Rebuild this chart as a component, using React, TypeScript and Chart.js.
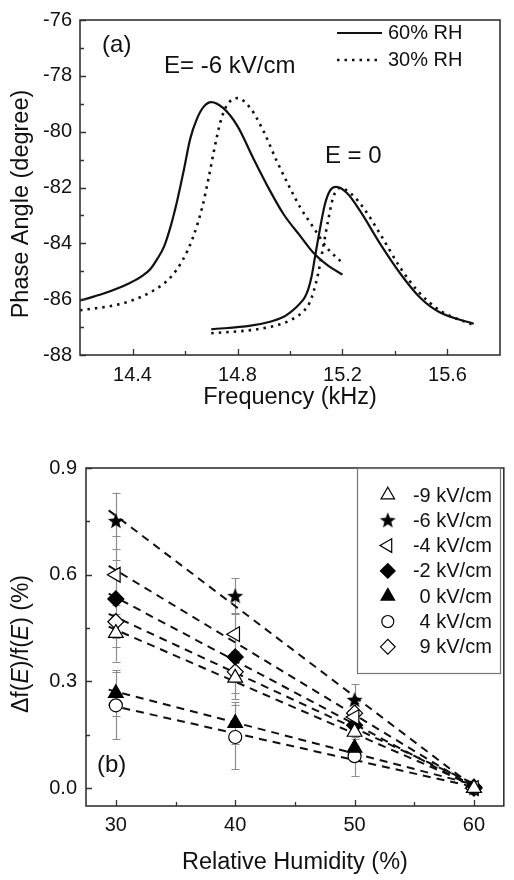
import React, { useEffect, useRef } from 'react';
import { Chart, registerables } from 'chart.js';
import { drawPoint } from 'chart.js/helpers';

Chart.register(...registerables);

const FONT = "'Liberation Sans', Arial, Helvetica, sans-serif";
const INK = '#111111';

// ---------------- Panel (a) ----------------
const freqTicks = [14.4, 14.8, 15.2, 15.6];
const freqMinorTicks = [14.6, 15.0, 15.4];
const phaseTicks = [-88, -86, -84, -82, -80, -78, -76];
const phaseMinorTicks = [-87, -85, -83, -81, -79, -77];

// E = -6 kV/cm, 60% RH (solid)
const freqNeg6RH60 = [14.2, 14.29, 14.39, 14.44, 14.47, 14.495, 14.52, 14.545, 14.57, 14.595, 14.62, 14.645, 14.67, 14.7, 14.745, 14.8, 14.86, 14.92, 14.975, 15.04, 15.09, 15.145, 15.2];
const phaseNeg6RH60 = [-86.05, -85.8, -85.42, -85.15, -84.9, -84.55, -84.12, -83.4, -82.48, -81.4, -80.25, -79.55, -79.12, -78.94, -79.15, -79.8, -80.95, -82.05, -82.95, -83.75, -84.35, -84.8, -85.12];
// E = -6 kV/cm, 30% RH (dotted)
const freqNeg6RH30 = [14.2, 14.33, 14.4, 14.48, 14.545, 14.59, 14.63, 14.665, 14.69, 14.71, 14.735, 14.76, 14.8, 14.85, 14.9, 14.95, 15.0, 15.04, 15.09, 15.14, 15.2];
const phaseNeg6RH30 = [-86.4, -86.22, -86.04, -85.69, -85.22, -84.62, -83.8, -82.73, -81.66, -80.7, -79.65, -79.05, -78.8, -79.17, -80.0, -81.06, -82.02, -82.73, -83.44, -84.15, -84.7];
// E = 0, 60% RH (solid)
const freqZeroRH60 = [14.7, 14.85, 14.92, 14.97, 15.0, 15.025, 15.045, 15.057, 15.07, 15.082, 15.095, 15.115, 15.133, 15.152, 15.176, 15.217, 15.267, 15.343, 15.42, 15.495, 15.57, 15.7];
const phaseZeroRH60 = [-87.08, -86.95, -86.82, -86.66, -86.48, -86.28, -86.08, -85.92, -85.63, -85.2, -84.5, -83.44, -82.6, -82.12, -81.98, -82.2, -82.84, -84.01, -85.08, -85.94, -86.47, -86.88];
// E = 0, 30% RH (dotted)
const freqZeroRH30 = [14.7, 14.85, 14.92, 14.97, 15.0, 15.03, 15.055, 15.075, 15.09, 15.107, 15.126, 15.145, 15.164, 15.19, 15.23, 15.28, 15.343, 15.42, 15.485, 15.57, 15.7];
const phaseZeroRH30 = [-87.22, -87.11, -87.0, -86.88, -86.76, -86.6, -86.4, -86.12, -85.72, -85.1, -84.15, -83.19, -82.37, -82.02, -82.2, -82.73, -83.66, -84.87, -85.69, -86.4, -86.93];

const legendA = ['60% RH', '30% RH'];

// ---------------- Panel (b) ----------------
const humidity = [30, 40, 50, 60];
const humidityTicks = [30, 40, 50, 60];
const humidityMinorTicks = [35, 45, 55];
const shiftTicks = [0, 0.3, 0.6, 0.9];
const shiftMinorTicks = [0.15, 0.45, 0.75];

const fieldLabels = ['-9 kV/cm', '-6 kV/cm', '-4 kV/cm', '-2 kV/cm', '0 kV/cm', '4 kV/cm', '9 kV/cm'];

const shiftM9 = [0.436, 0.31, 0.158, 0.0];
const shiftM6 = [0.751, 0.54, 0.248, 0.0];
const shiftM4 = [0.6, 0.433, 0.2, 0.0];
const shiftM2 = [0.532, 0.369, 0.177, 0.0];
const shift0 = [0.267, 0.183, 0.113, 0.0];
const shift4 = [0.233, 0.144, 0.09, 0.0];
const shift9 = [0.468, 0.327, 0.211, 0.003];

const errM9 = [0.08, 0.06, 0.04, 0];
const errM6 = [0.08, 0.05, 0.045, 0];
const errM4 = [0.11, 0.06, 0.04, 0];
const errM2 = [0.11, 0.07, 0.04, 0];
const err0 = [0.065, 0.06, 0.03, 0];
const err4 = [0.095, 0.09, 0.055, 0];
const err9 = [0.07, 0.06, 0.04, 0];

// linear-fit end points
const fitX = [29.4, 60.5];
const fitM9 = [0.454, 0.0];
const fitM6 = [0.781, -0.009];
const fitM4 = [0.625, -0.007];
const fitM2 = [0.547, -0.007];
const fit0 = [0.277, 0.006];
const fit4 = [0.234, 0.0];
const fit9 = [0.49, 0.005];

function zip(xs: number[], ys: number[]) {
  return xs.map((x, i) => ({ x, y: ys[i] }));
}

function makeStar(): HTMLCanvasElement {
  const c = document.createElement('canvas');
  c.width = 20;
  c.height = 20;
  const g = c.getContext('2d')!;
  const R = 8.4;
  const r = 3.6;
  g.beginPath();
  for (let i = 0; i < 10; i++) {
    const rad = (Math.PI / 5) * i - Math.PI / 2;
    const rr = i % 2 === 0 ? R : r;
    const x = 10 + Math.cos(rad) * rr;
    const y = 10.5 + Math.sin(rad) * rr;
    if (i === 0) g.moveTo(x, y);
    else g.lineTo(x, y);
  }
  g.closePath();
  g.fillStyle = '#000';
  g.fill();
  return c;
}

function frameAndTicks(xMinor: number[], yMinor: number[]) {
  return {
    id: 'frameAndTicks',
    afterDraw(chart: any) {
      const { ctx, chartArea: a, scales } = chart;
      const xs = scales.x;
      const ys = scales.y;
      ctx.save();
      ctx.strokeStyle = '#333';
      ctx.lineWidth = 1.3;
      ctx.beginPath();
      xs.ticks.forEach((t: any) => {
        const px = Math.round(xs.getPixelForValue(t.value)) + 0.5;
        ctx.moveTo(px, a.bottom);
        ctx.lineTo(px, a.bottom - 6);
      });
      xMinor.forEach((v) => {
        const px = Math.round(xs.getPixelForValue(v)) + 0.5;
        ctx.moveTo(px, a.bottom);
        ctx.lineTo(px, a.bottom - 4);
      });
      ys.ticks.forEach((t: any) => {
        const py = Math.round(ys.getPixelForValue(t.value)) + 0.5;
        ctx.moveTo(a.left, py);
        ctx.lineTo(a.left + 6, py);
      });
      yMinor.forEach((v) => {
        const py = Math.round(ys.getPixelForValue(v)) + 0.5;
        ctx.moveTo(a.left, py);
        ctx.lineTo(a.left + 4, py);
      });
      ctx.stroke();
      ctx.lineWidth = 1.6;
      ctx.strokeRect(a.left, a.top, a.right - a.left, a.bottom - a.top);
      ctx.restore();
    },
  };
}

const annotationsA = {
  id: 'annotationsA',
  afterDraw(chart: any) {
    const { ctx, chartArea: a, scales } = chart;
    const xs = scales.x;
    const ys = scales.y;
    ctx.save();
    ctx.fillStyle = INK;
    ctx.textBaseline = 'middle';
    ctx.textAlign = 'left';
    ctx.font = `24px ${FONT}`;
    ctx.fillText('(a)', xs.getPixelForValue(14.284), ys.getPixelForValue(-76.9));
    ctx.fillText('E= -6 kV/cm', xs.getPixelForValue(14.52), ys.getPixelForValue(-77.67));
    ctx.fillText('E = 0', xs.getPixelForValue(15.133), ys.getPixelForValue(-80.88));

    // legend
    ctx.font = `20px ${FONT}`;
    const lx0 = a.left + 257;
    const lx1 = a.left + 302;
    const rows = [a.top + 13, a.top + 40];
    ctx.strokeStyle = INK;
    ctx.lineWidth = 2.2;
    ctx.beginPath();
    ctx.moveTo(lx0, rows[0]);
    ctx.lineTo(lx1, rows[0]);
    ctx.stroke();
    ctx.setLineDash([2.5, 5]);
    ctx.lineWidth = 2.6;
    ctx.beginPath();
    ctx.moveTo(lx0, rows[1]);
    ctx.lineTo(lx1, rows[1]);
    ctx.stroke();
    ctx.setLineDash([]);
    ctx.fillText(legendA[0], lx1 + 6, rows[0]);
    ctx.fillText(legendA[1], lx1 + 6, rows[1]);

    // y-axis title
    ctx.font = `23.5px ${FONT}`;
    ctx.textAlign = 'center';
    ctx.translate(22, a.top + 184);
    ctx.rotate(-Math.PI / 2);
    ctx.fillText('Phase Angle (degree)', 0, 0);
    ctx.restore();
  },
};

export default function App() {
  const refA = useRef<HTMLCanvasElement>(null);
  const refB = useRef<HTMLCanvasElement>(null);

  useEffect(() => {
    Chart.defaults.font.family = FONT;
    Chart.defaults.color = INK;
    const star = makeStar();

    const solid = { showLine: true, borderColor: INK, borderWidth: 2.2, pointRadius: 0, cubicInterpolationMode: 'monotone' as const, fill: false };
    const dotted = { ...solid, borderWidth: 2.6, borderDash: [2.5, 5], borderCapStyle: 'butt' as const };

    const chartA = new Chart(refA.current!, {
      type: 'scatter',
      data: {
        datasets: [
          { label: 'E=-6 60%', data: zip(freqNeg6RH60, phaseNeg6RH60), ...solid },
          { label: 'E=-6 30%', data: zip(freqNeg6RH30, phaseNeg6RH30), ...dotted },
          { label: 'E=0 60%', data: zip(freqZeroRH60, phaseZeroRH60), ...solid },
          { label: 'E=0 30%', data: zip(freqZeroRH30, phaseZeroRH30), ...dotted },
        ] as any,
      },
      options: {
        animation: false,
        responsive: false,
        events: [],
        layout: { padding: { top: 18, right: 14, left: 0, bottom: 0 } },
        plugins: { legend: { display: false }, tooltip: { enabled: false } },
        scales: {
          x: {
            type: 'linear',
            min: 14.2,
            max: 15.8,
            afterBuildTicks: (s: any) => { s.ticks = freqTicks.map((v) => ({ value: v })); },
            afterFit: (s: any) => { s.height = 65; },
            grid: { display: false, drawTicks: false },
            border: { display: false },
            ticks: { padding: 8, maxRotation: 0, font: { size: 20 }, color: INK, callback: (v: any) => Number(v).toFixed(1) },
            title: { display: true, text: 'Frequency (kHz)', font: { size: 23.5 }, color: INK, padding: { top: 0, bottom: 8 } },
          },
          y: {
            type: 'linear',
            min: -88,
            max: -76,
            afterBuildTicks: (s: any) => { s.ticks = phaseTicks.map((v) => ({ value: v })); },
            afterFit: (s: any) => { s.width = 80; },
            grid: { display: false, drawTicks: false },
            border: { display: false },
            ticks: { padding: 8, font: { size: 20 }, color: INK, callback: (v: any) => String(v) },
          },
        },
      } as any,
      plugins: [frameAndTicks(freqMinorTicks, phaseMinorTicks), annotationsA],
    });

    const seriesB = [
      { label: fieldLabels[0], values: shiftM9, errors: errM9, fit: fitM9, style: 'triangle' as any, rotation: 0, radius: 8.5, fill: '#fff' },
      { label: fieldLabels[1], values: shiftM6, errors: errM6, fit: fitM6, style: star as any, rotation: 0, radius: 9, fill: '#000' },
      { label: fieldLabels[2], values: shiftM4, errors: errM4, fit: fitM4, style: 'triangle' as any, rotation: -90, radius: 8.5, fill: '#fff' },
      { label: fieldLabels[3], values: shiftM2, errors: errM2, fit: fitM2, style: 'rectRot' as any, rotation: 0, radius: 8, fill: '#000' },
      { label: fieldLabels[4], values: shift0, errors: err0, fit: fit0, style: 'triangle' as any, rotation: 0, radius: 8.5, fill: '#000' },
      { label: fieldLabels[5], values: shift4, errors: err4, fit: fit4, style: 'circle' as any, rotation: 0, radius: 6.5, fill: '#fff' },
      { label: fieldLabels[6], values: shift9, errors: err9, fit: fit9, style: 'rectRot' as any, rotation: 0, radius: 8, fill: '#fff' },
    ];

    const pointSets = seriesB.map((s) => ({
      label: s.label,
      data: zip(humidity, s.values),
      showLine: false,
      pointStyle: s.style,
      pointRotation: s.rotation,
      pointRadius: s.radius,
      pointBackgroundColor: s.fill,
      pointBorderColor: '#000',
      pointBorderWidth: 1.2,
      order: 1,
    }));
    const fitSets = seriesB.map((s) => ({
      label: s.label + ' fit',
      data: zip(fitX, s.fit),
      showLine: true,
      borderColor: INK,
      borderWidth: 2,
      borderDash: [8, 6],
      pointRadius: 0,
      order: 2,
    }));

    const errorBars = {
      id: 'errorBars',
      beforeDatasetsDraw(chart: any) {
        const { ctx, scales } = chart;
        const xs = scales.x;
        const ys = scales.y;
        ctx.save();
        ctx.strokeStyle = '#8c8c8c';
        ctx.lineWidth = 1.2;
        ctx.beginPath();
        seriesB.forEach((s) => {
          humidity.forEach((h, i) => {
            const e = s.errors[i];
            if (!e) return;
            const px = Math.round(xs.getPixelForValue(h)) + 0.5;
            const y0 = ys.getPixelForValue(s.values[i] - e);
            const y1 = ys.getPixelForValue(s.values[i] + e);
            ctx.moveTo(px, y0);
            ctx.lineTo(px, y1);
            ctx.moveTo(px - 4, Math.round(y0) + 0.5);
            ctx.lineTo(px + 4, Math.round(y0) + 0.5);
            ctx.moveTo(px - 4, Math.round(y1) + 0.5);
            ctx.lineTo(px + 4, Math.round(y1) + 0.5);
          });
        });
        ctx.stroke();
        ctx.restore();
      },
    };

    const decorB = {
      id: 'decorB',
      afterDraw(chart: any) {
        const { ctx, chartArea: a, scales } = chart;
        const xs = scales.x;
        const ys = scales.y;
        ctx.save();
        // legend box
        const bw = 143;
        const bh = 205;
        const bl = a.right - 147;
        const bt = a.top;
        ctx.strokeStyle = '#777';
        ctx.lineWidth = 1.2;
        ctx.strokeRect(Math.round(bl) + 0.5, Math.round(bt) + 0.5, bw, bh);
        ctx.font = `20px ${FONT}`;
        ctx.textAlign = 'right';
        ctx.textBaseline = 'middle';
        seriesB.forEach((s, i) => {
          const y = bt + 27 + i * 25.3;
          ctx.fillStyle = s.fill;
          ctx.strokeStyle = '#000';
          ctx.lineWidth = 1.2;
          drawPoint(ctx, { pointStyle: s.style, rotation: s.rotation, radius: s.radius * 0.92, borderWidth: 1.2 } as any, bl + 31, y);
          ctx.fillStyle = INK;
          ctx.fillText(s.label, bl + 135, y + 1);
        });
        // (b)
        ctx.textAlign = 'left';
        ctx.font = `24px ${FONT}`;
        ctx.fillStyle = INK;
        ctx.fillText('(b)', xs.getPixelForValue(28.42), ys.getPixelForValue(0.065));
        // y title with italic E
        const parts: [string, boolean][] = [['Δf(', false], ['E', true], [')/f(', false], ['E', true], [') (%)', false]];
        const norm = `23px ${FONT}`;
        const ital = `italic 23px ${FONT}`;
        let total = 0;
        parts.forEach(([t, it]) => { ctx.font = it ? ital : norm; total += ctx.measureText(t).width; });
        ctx.translate(22, a.top + 176);
        ctx.rotate(-Math.PI / 2);
        let x = -total / 2;
        parts.forEach(([t, it]) => {
          ctx.font = it ? ital : norm;
          ctx.fillText(t, x, 0);
          x += ctx.measureText(t).width;
        });
        ctx.restore();
      },
    };

    const chartB = new Chart(refB.current!, {
      type: 'scatter',
      data: { datasets: [...pointSets, ...fitSets] as any },
      options: {
        animation: false,
        responsive: false,
        events: [],
        layout: { padding: { top: 48, right: 9, left: 0, bottom: 0 } },
        plugins: { legend: { display: false }, tooltip: { enabled: false } },
        scales: {
          x: {
            type: 'linear',
            min: 27.5,
            max: 62.5,
            afterBuildTicks: (s: any) => { s.ticks = humidityTicks.map((v) => ({ value: v })); },
            afterFit: (s: any) => { s.height = 74; },
            grid: { display: false, drawTicks: false },
            border: { display: false },
            ticks: { padding: 7, maxRotation: 0, font: { size: 20 }, color: INK, callback: (v: any) => String(v) },
            title: { display: true, text: 'Relative Humidity (%)', font: { size: 23.5 }, color: INK, padding: { top: 0, bottom: 3 } },
          },
          y: {
            type: 'linear',
            min: -0.05,
            max: 0.9,
            afterBuildTicks: (s: any) => { s.ticks = shiftTicks.map((v) => ({ value: v })); },
            afterFit: (s: any) => { s.width = 86; },
            grid: { display: false, drawTicks: false },
            border: { display: false },
            ticks: { padding: 9, font: { size: 20 }, color: INK, callback: (v: any) => Number(v).toFixed(1) },
          },
        },
      } as any,
      plugins: [errorBars, frameAndTicks(humidityMinorTicks, shiftMinorTicks), decorB],
    });

    return () => {
      chartA.destroy();
      chartB.destroy();
    };
  }, []);

  return (
    <div style={{ position: 'absolute', left: 0, top: 0, width: 514, height: 880, background: '#fff' }}>
      <canvas ref={refA} width={514} height={420} style={{ position: 'absolute', left: 0, top: 0, width: 514, height: 420 }} />
      <canvas ref={refB} width={514} height={460} style={{ position: 'absolute', left: 0, top: 420, width: 514, height: 460 }} />
    </div>
  );
}
